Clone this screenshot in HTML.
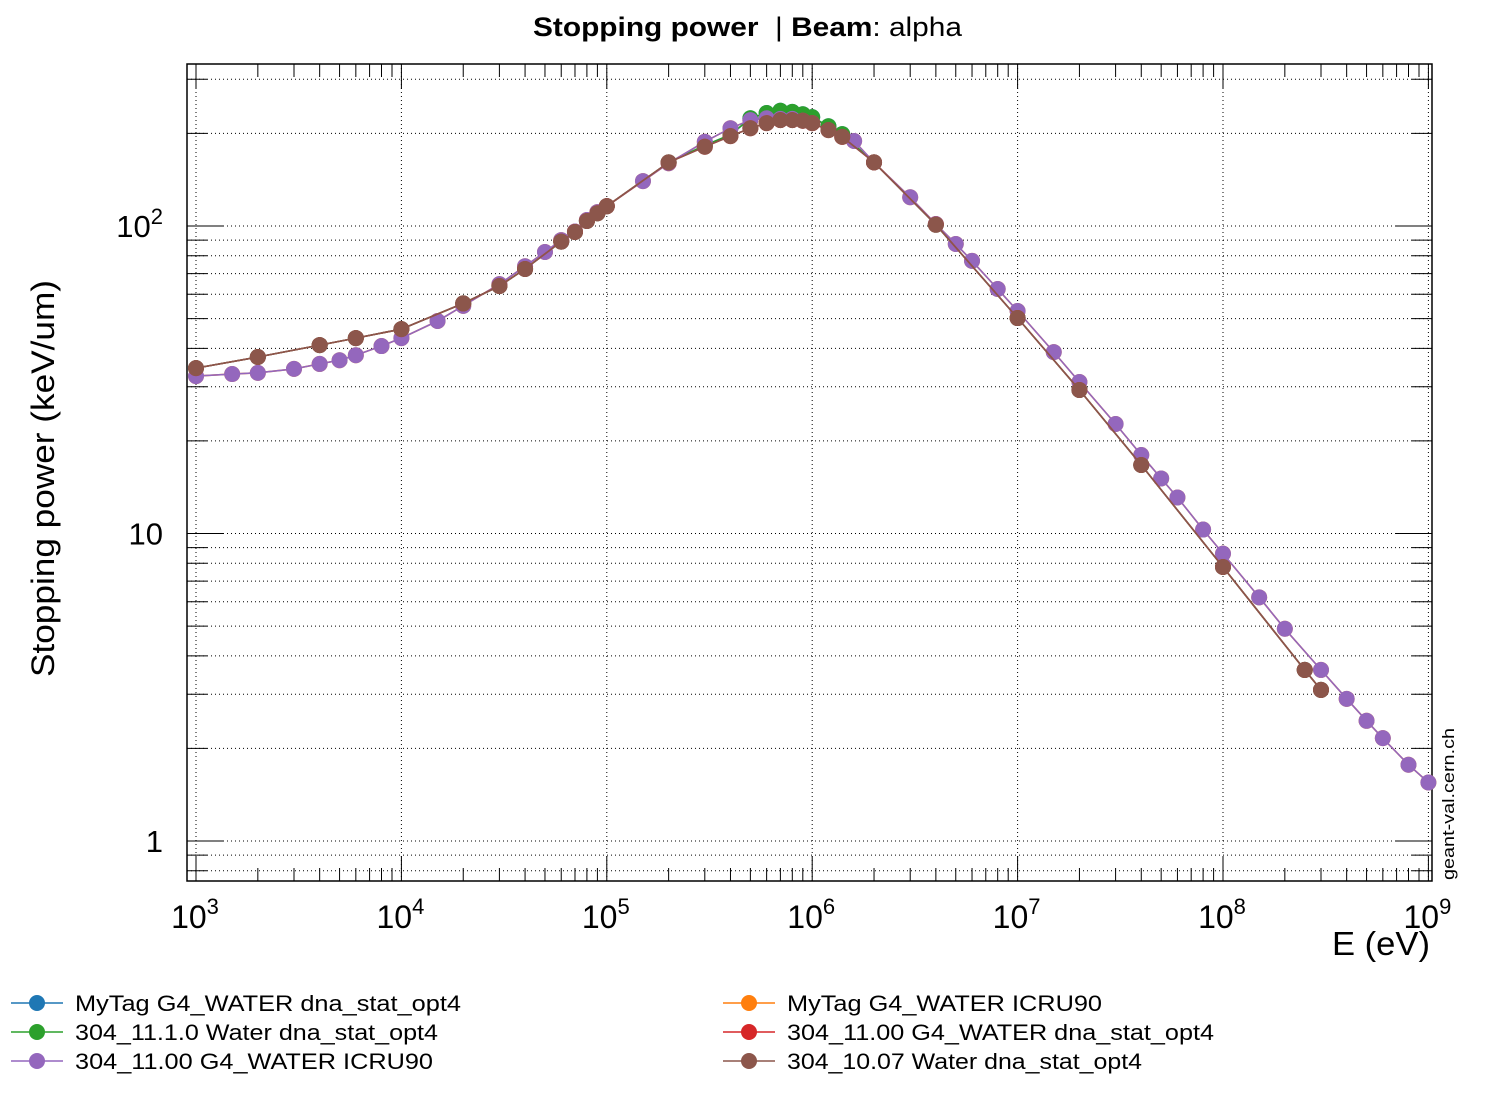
<!DOCTYPE html>
<html><head><meta charset="utf-8"><style>
body{margin:0;background:#fff;}
svg{display:block;font-family:"Liberation Sans",sans-serif;}
</style></head><body>
<svg id="chart" width="1500" height="1100" viewBox="0 0 1500 1100" xmlns="http://www.w3.org/2000/svg">
<text x="533" y="36" font-size="27" textLength="429" lengthAdjust="spacingAndGlyphs" xml:space="preserve"><tspan font-weight="bold">Stopping power</tspan>  | <tspan font-weight="bold">Beam</tspan>: alpha</text>
<g id="grid"></g>
<g id="axes"></g>
<g id="series"></g>
<text transform="translate(54,677) rotate(-90)" font-size="32" textLength="397" lengthAdjust="spacingAndGlyphs">Stopping power (keV/um)</text>
<text x="1332" y="955" font-size="33" textLength="98" lengthAdjust="spacingAndGlyphs">E (eV)</text>
<text transform="translate(1454,880) rotate(-90)" font-size="17" textLength="152" lengthAdjust="spacingAndGlyphs">geant-val.cern.ch</text>
<g id="legend"></g>
</svg>
<script>
const NS="http://www.w3.org/2000/svg";
const seriesNames=["MyTag G4_WATER dna_stat_opt4","MyTag G4_WATER ICRU90","304_11.1.0 Water dna_stat_opt4","304_11.00 G4_WATER dna_stat_opt4","304_11.00 G4_WATER ICRU90","304_10.07 Water dna_stat_opt4"];
const legendWidths=[386,315,363,427,358,355];
const seriesColors=["#1f77b4","#ff7f0e","#2ca02c","#d62728","#9467bd","#8c564b"];
const yTickLabels=["1","10","10²"];
const eDna=[1e3,2e3,4e3,6e3,1e4,2e4,3e4,4e4,6e4,7e4,8e4,9e4,1e5,2e5,3e5,4e5,5e5,6e5,7e5,8e5,9e5,1e6,1.2e6,1.4e6,2e6,4e6,1e7,2e7,4e7,1e8,2.5e8,3e8];
const sGreen=[34.5,37.5,41,43.2,46.2,56,63.8,72.5,89,95.6,103.8,110,116,161,183,198,224,233,237,235,231,226,211,199,161,101,50.2,29.3,16.7,7.78,3.6,3.1];
const sBlue=[34.5,37.5,41,43.2,46.2,56,63.8,72.5,89,95.6,103.8,110,116,161,183,198,224,233,237,235,231,226,211,199,161,101,50.2,29.3,16.7,7.78,3.6,3.1];
const sRed=[34.5,37.5,41,43.2,46.2,56,63.8,72.5,89,95.6,103.8,110,116,161,181,196,208,216,221,221,220,216,205,195,161,101,50.2,29.3,16.7,7.78,3.6,3.1];
const sBrown=[34.5,37.5,41,43.2,46.2,56,63.8,72.5,89,95.6,103.8,110,116,161,181,196,208,216,221,221,220,216,205,195,161,101,50.2,29.3,16.7,7.78,3.6,3.1];
const eIcru=[1e3,1.5e3,2e3,3e3,4e3,5e3,6e3,8e3,1e4,1.5e4,2e4,3e4,4e4,5e4,6e4,7e4,8e4,9e4,1e5,1.5e5,2e5,3e5,4e5,5e5,6e5,7e5,8e5,9e5,1e6,1.6e6,2e6,3e6,4e6,5e6,6e6,8e6,1e7,1.5e7,2e7,3e7,4e7,5e7,6e7,8e7,1e8,1.5e8,2e8,3e8,4e8,5e8,6e8,8e8,1e9];
const sPurple=[32.5,33,33.3,34.3,35.6,36.6,38,40.7,43.2,49.1,55,64.7,74,82.3,90,96,104.6,111,116,140,160,188,208,221,224,223,223,220,216,189,161,124,101.5,87.4,77,62.4,52.9,38.9,31.1,22.7,18,15.1,13.1,10.3,8.6,6.2,4.9,3.6,2.9,2.46,2.16,1.77,1.55];
const sOrange=sPurple.slice();

const L=187,R=1432,T=64,B=881;
function X(e){return 196+205.4*(Math.log10(e)-3);}
function Y(v){return 226-307.5*(Math.log10(v)-2);}
function mk(tag,attrs,parent){const el=document.createElementNS(NS,tag);for(const k in attrs)el.setAttribute(k,attrs[k]);parent.appendChild(el);return el;}
const grid=document.getElementById('grid'),axes=document.getElementById('axes'),ser=document.getElementById('series'),leg=document.getElementById('legend');

for(let d=-1;d<=2;d++){for(let m=1;m<=9;m++){const v=m*Math.pow(10,d);const y=Y(v);if(y<T||y>B)continue;
 const g=mk('line',{x1:L,x2:R,y1:y,y2:y,stroke:'#000','stroke-width':1,'stroke-dasharray':'1,3'},grid);
 
 const len=m===1?37:20;
 const t1=mk('line',{x1:L,x2:L+len,y1:y,y2:y,stroke:'#000','stroke-width':1},axes);
 
 const t2=mk('line',{x1:R,x2:R-len,y1:y,y2:y,stroke:'#000','stroke-width':1},axes);
 
}}
[1,10,100].forEach((v,i)=>{const t=mk('text',{x:163,y:Y(v)+11,'text-anchor':'end','font-size':31},axes);
 
 if(i<2)t.textContent=yTickLabels[i];else{t.textContent='10';const s=mk('tspan',{dy:-13,'font-size':22},t);s.textContent='2';}
});
for(let d=3;d<=9;d++){for(let m=1;m<=9;m++){const e=m*Math.pow(10,d);const x=X(e);if(x>R+1)continue;
 if(m===1){const g=mk('line',{x1:x,x2:x,y1:T,y2:B,stroke:'#000','stroke-width':1,'stroke-dasharray':'1,3'},grid);
  }
 const len=m===1?25:13;
 const t1=mk('line',{x1:x,x2:x,y1:B,y2:B-len,stroke:'#000','stroke-width':1},axes);
 
 const t2=mk('line',{x1:x,x2:x,y1:T,y2:T+len,stroke:'#000','stroke-width':1},axes);
 
}
 const t=mk('text',{x:X(Math.pow(10,d))-1,y:928,'text-anchor':'middle','font-size':32},axes);
 
 t.textContent='10';const s=mk('tspan',{dy:-14,'font-size':22},t);s.textContent=String(d);
}
const fr=mk('rect',{x:L,y:T,width:R-L,height:B-T,fill:'none',stroke:'#000','stroke-width':1.5},axes);


const drawOrder=[[0,eDna,sBlue],[1,eIcru,sOrange],[2,eDna,sGreen],[4,eIcru,sPurple],[3,eDna,sRed],[5,eDna,sBrown]];
drawOrder.forEach(([i,xs,ys])=>{
 const g=mk('g',{},ser);
 
 const pts=xs.map((e,k)=>X(e).toFixed(1)+','+Y(ys[k]).toFixed(1)).join(' ');
 const pl=mk('polyline',{points:pts,fill:'none',stroke:seriesColors[i],'stroke-width':1.6},g);
 
 xs.forEach((e,k)=>{const c=mk('circle',{cx:X(e),cy:Y(ys[k]),r:8,fill:seriesColors[i]},g);
  });
});
const legPos=[[0,0],[1,0],[0,1],[1,1],[0,2],[1,2]];
seriesNames.forEach((n,i)=>{const [c,r]=legPos[i];const x0=c?723:11,y0=1003+r*29;
 const g=mk('g',{},leg);
 
 mk('line',{x1:x0,x2:x0+52,y1:y0,y2:y0,stroke:seriesColors[i],'stroke-width':1.6},g);
 mk('circle',{cx:x0+26,cy:y0,r:8,fill:seriesColors[i]},g);
 const t=mk('text',{x:x0+64,y:y0+8,'font-size':22,textLength:legendWidths[i],lengthAdjust:'spacingAndGlyphs'},g);t.textContent=n;
});
</script>
</body></html>
